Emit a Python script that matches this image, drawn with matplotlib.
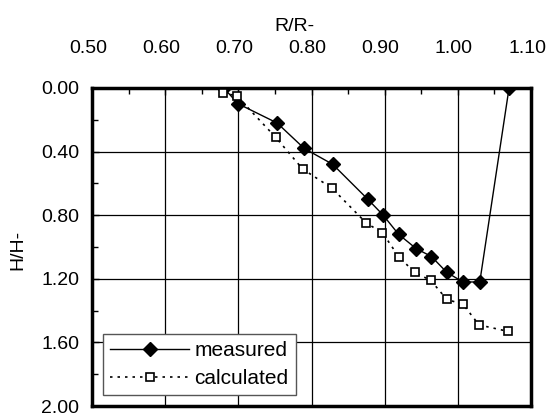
import numpy as np
import matplotlib.pyplot as plt
import matplotlib.transforms as mtransforms
from matplotlib.ticker import MultipleLocator, FormatStrFormatter

plt.rcParams['font.family'] = ['Liberation Sans', 'DejaVu Sans']

# measured profile
r_meas = [0.68, 0.70, 0.753, 0.79, 0.829, 0.877, 0.898, 0.919, 0.943, 0.964, 0.985, 1.007, 1.030, 1.07]
h_meas = [0.00, 0.10, 0.22, 0.38, 0.48, 0.70, 0.80, 0.92, 1.01, 1.06, 1.16, 1.22, 1.22, 0.00]

# calculated profile
r_calc = [0.679, 0.698, 0.751, 0.788, 0.828, 0.875, 0.897, 0.919, 0.941, 0.963, 0.985, 1.007, 1.029, 1.068]
h_calc = [0.03, 0.05, 0.31, 0.51, 0.63, 0.85, 0.91, 1.06, 1.16, 1.21, 1.33, 1.36, 1.49, 1.53]

fs = 14

fig = plt.figure(figsize=(5.55, 4.18), dpi=100)
ax = fig.add_axes([92 / 555, 1 - 406 / 418, (531 - 92) / 555, (406 - 88) / 418])

ax.plot(r_meas, h_meas, color='black', lw=1.0, marker='D', ms=7,
        mfc='black', mec='black', label='measured', zorder=3)
ax.plot(r_calc, h_calc, color='black', lw=1.2, ls=(0, (1.5, 3)), marker='s', ms=6,
        mfc='white', mec='black', mew=1.2, label='calculated', zorder=3)

ax.set_xlim(0.5, 1.1)
ax.set_ylim(2.0, 0.0)

ax.xaxis.tick_top()
ax.xaxis.set_label_position('top')
ax.xaxis.set_major_locator(MultipleLocator(0.1))
ax.xaxis.set_minor_locator(MultipleLocator(0.05))
ax.yaxis.set_major_locator(MultipleLocator(0.4))
ax.yaxis.set_minor_locator(MultipleLocator(0.2))
ax.xaxis.set_major_formatter(FormatStrFormatter('%.2f'))
ax.yaxis.set_major_formatter(FormatStrFormatter('%.2f'))

ax.tick_params(axis='x', which='both', direction='in', labelsize=fs, pad=22)
ax.tick_params(axis='y', which='both', direction='in', labelsize=fs, pad=9)
ax.tick_params(which='major', length=5, width=1)
ax.tick_params(which='minor', length=4, width=1)

# x labels sit a little left of their grid lines
shift = mtransforms.ScaledTranslation(-4 / 100, 0, fig.dpi_scale_trans)
for lab in ax.get_xticklabels():
    lab.set_transform(lab.get_transform() + shift)

ax.grid(True, which='major', color='black', lw=0.9)
for s in ax.spines.values():
    s.set_linewidth(2.5)

ax.set_xlabel('R/R-', fontsize=fs)
ax.xaxis.set_label_coords(0.46, 1.18)
ax.set_ylabel('H/H-', fontsize=fs)
ax.yaxis.set_label_coords(-0.15, 0.49)

leg = ax.legend(loc='lower left', bbox_to_anchor=(0.015, 0.02), fontsize=15,
                frameon=True, fancybox=False, framealpha=1, edgecolor='#555555',
                handlelength=3.8, borderpad=0.35, labelspacing=0.45, handletextpad=0.25,
                borderaxespad=0.2)
leg.get_frame().set_linewidth(1.0)

fig.savefig('out.png', dpi=100)
